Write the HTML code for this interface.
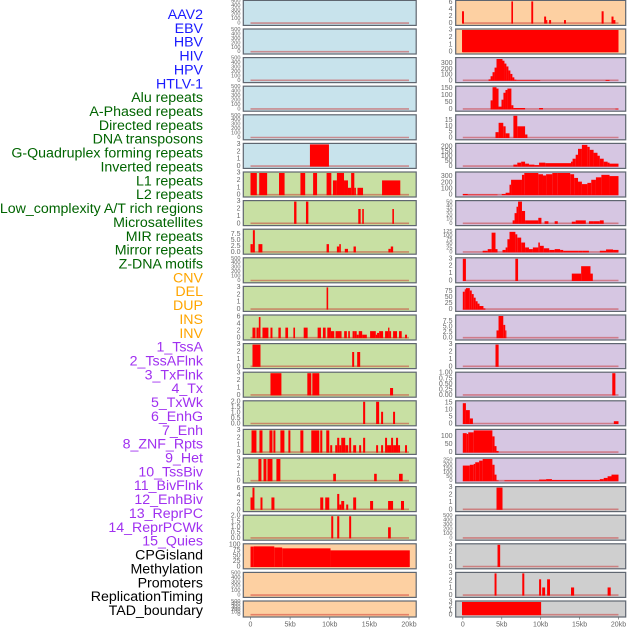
<!DOCTYPE html>
<html><head><meta charset="utf-8"><style>
html,body{margin:0;padding:0;background:#fff;}
svg{display:block;font-family:"Liberation Sans",sans-serif;}
</style></head><body>
<svg id="chart" width="630" height="630" viewBox="0 0 630 630" xmlns="http://www.w3.org/2000/svg"></svg>
<script>
// ---------- data ----------
const labelNames = ["AAV2","EBV","HBV","HIV","HPV","HTLV-1","Alu repeats","A-Phased repeats","Directed repeats","DNA transposons","G-Quadruplex forming repeats","Inverted repeats","L1 repeats","L2 repeats","Low_complexity A/T rich regions","Microsatellites","MIR repeats","Mirror repeats","Z-DNA motifs","CNV","DEL","DUP","INS","INV","1_TssA","2_TssAFlnk","3_TxFlnk","4_Tx","5_TxWk","6_EnhG","7_Enh","8_ZNF_Rpts","9_Het","10_TssBiv","11_BivFlnk","12_EnhBiv","13_ReprPC","14_ReprPCWk","15_Quies","CPGisland","Methylation","Promoters","ReplicationTiming","TAD_boundary"];
const labelGroups = [6,13,5,15,5];
const groupColors = ["#1a1aff","#006400","#ffa500","#a030f0","#000000"];

const xTickValues = [0,5,10,15,20];
const xTickLabels = ["0","5kb","10kb","15kb","20kb"];

const leftColors = ["#c8e3ec","#c8e3ec","#c8e3ec","#c8e3ec","#c8e3ec","#c8e3ec","#c8e0a3","#c8e0a3","#c8e0a3","#c8e0a3","#c8e0a3","#c8e0a3","#c8e0a3","#c8e0a3","#c8e0a3","#c8e0a3","#c8e0a3","#c8e0a3","#c8e0a3","#fdd0a2","#fdd0a2","#fdd0a2"];
const rightColors = ["#fdd0a2","#fdd0a2","#d6c6e2","#d6c6e2","#d6c6e2","#d6c6e2","#d6c6e2","#d6c6e2","#d6c6e2","#d6c6e2","#d6c6e2","#d6c6e2","#d6c6e2","#d6c6e2","#d6c6e2","#d6c6e2","#d6c6e2","#cfcfcf","#cfcfcf","#cfcfcf","#cfcfcf","#cfcfcf"];

const T500 = [0,100,200,300,400,500];
const T3 = [0,1,2,3];
const leftYmax = [500,500,500,500,500,3,3,3,9.4,500,3,6.3,3,3,2,3,3,6.3,2,100,500,500];
const leftTicks = [T500,T500,T500,T500,T500,T3,T3,T3,[0,2.5,5,7.5],T500,T3,[0,2,4,6],T3,T3,[0,0.5,1,1.5,2],T3,T3,[0,2,4,6],[0,0.5,1,1.5,2],[0,25,50,75,100],T500,T500];
const leftTickLabels = [null,null,null,null,null,null,null,null,["0.0","2.5","5.0","7.5"],null,null,null,null,null,["0.0","0.5","1.0","1.5","2.0"],null,null,null,["0.0","0.5","1.0","1.5","2.0"],null,null,null];

const rightYmax = [6.3,3,387,160,19,225,360,52,135,3,93,10,3,1,16,137,270,3,500,3,3,3];
const rightTicks = [[0,2,4,6],T3,[0,100,200,300],[0,50,100,150],[0,5,10,15],[0,50,100,150,200],[0,100,200,300],[0,10,20,30,40,50],[0,25,50,75,100,125],T3,[0,25,50,75],[0,2.5,5,7.5],T3,[0,0.25,0.5,0.75,1],[0,5,10,15],[0,50,100],[0,50,100,150,200,250],T3,T500,T3,T3,T3];
const rightTickLabels = [null,null,null,null,null,null,null,null,null,null,null,["0.0","2.5","5.0","7.5"],null,["0.00","0.25","0.50","0.75","1.00"],null,null,null,null,null,null,null,null];

// bars: [startKb, endKb, value]
const L5 = [[7.5,9.9,3]];
const L6 = [[0,0.8,3],[1.1,2.1,3],[3.6,4.3,3],[6.3,6.9,3],[7.9,8.4,3],[9.6,10.2,3],[10.4,10.9,2],[10.9,11.8,3],[11.8,12.3,2],[12.3,12.7,1],[12.7,13.1,3],[13.1,13.3,1],[13.5,14.2,1],[16.6,18.9,2]];
const L7 = [[5.5,5.8,3],[7.0,7.3,3],[13.6,13.9,2],[14.1,14.3,2],[17.9,18.1,2]];
const L8 = [[0,0.3,3.5],[0.3,0.55,9.5],[1,1.5,3.5],[9.6,9.9,3.5],[10.9,11.2,2.5],[11.2,11.4,3.5],[11.9,12.3,1.5],[13,13.3,2.5],[17.4,17.7,1.5],[17.7,18,2.5]];
const L10 = [[9.6,9.8,3]];
const L11 = [[0.25,0.63,3],[0.75,1.05,3],[1.05,1.26,6],[1.51,2.26,3],[2.52,2.77,3],[3.52,3.82,3],[4.4,4.74,3],[5.41,5.62,3],[6.71,7.21,3],[8.47,8.89,3],[9.14,9.48,3],[9.69,10.15,3],[10.15,10.57,2],[10.73,11.49,2],[11.82,12.16,2],[12.33,12.54,2],[12.88,13.14,2],[13.14,13.4,2],[13.4,13.66,1],[13.66,14.09,2],[14.09,14.68,1],[15.09,15.81,2],[15.81,15.97,1],[15.97,16.23,1.5],[16.23,16.73,2],[16.98,17.36,2],[17.36,17.53,3],[17.53,17.74,2],[17.99,18.49,2],[18.74,19.08,2],[19.5,19.75,1]];
const L12 = [[0.25,1.26,3],[12.83,13.08,2],[13.46,13.84,2]];
const L13 = [[2.52,3.9,3],[7.17,7.67,3],[7.8,8.68,3],[17.61,17.99,1]];
const L14 = [[14.21,14.47,2],[15.85,16.23,2],[16.48,16.73,1.1],[17.99,18.24,1.1]];
const L15 = [[0.13,0.75,3],[1.13,1.51,3],[2.39,2.77,3],[2.89,3.14,3],[3.77,4.28,3],[4.78,5.03,3],[6.29,6.67,3],[7.67,8.68,3],[8.8,9.06,3],[9.56,9.94,3],[10.06,10.31,1],[10.69,10.94,1],[10.94,11.2,2],[11.2,11.45,1],[11.45,11.95,2],[11.95,12.33,1],[12.45,12.7,2],[12.96,13.33,1],[13.71,13.96,1],[14.21,14.47,2],[15.85,16.1,1],[16.48,16.73,1],[16.98,17.23,2],[17.23,17.74,1],[17.74,17.99,2],[17.99,18.36,1],[18.36,18.62,2],[18.62,18.87,1],[19.5,19.75,1]];
const L16 = [[1.0,1.38,3],[1.64,2.01,3],[2.14,2.77,3],[3.27,3.77,3],[10.44,10.78,1],[15.6,15.93,1],[18.74,19.2,1]];
const L17 = [[0,0.25,3.5],[0.25,0.5,6.3],[1.26,1.51,3.5],[2.64,3.02,3.5],[8.8,9.18,3.5],[9.43,9.94,3.5],[10.94,11.2,4.5],[11.2,11.45,1.5],[11.45,11.82,2.5],[12.08,12.33,1.5],[12.96,13.33,3.5],[15.09,15.47,2.5],[17.36,17.99,2.5],[18.99,19.37,2.5]];
const L18 = [[10.19,10.44,2],[10.94,11.2,2],[12.45,12.7,2],[17.36,17.7,1]];
const L19 = [[0,0.4,92],[0.4,3,93],[3,4,88],[4,10.1,84],[10.1,20.1,75]];
const leftBars = [[],[],[],[],[],L5,L6,L7,L8,[],L10,L11,L12,L13,L14,L15,L16,L17,L18,L19,[],[]];

const R0 = [[-0.1,0.15,3.5],[6.24,6.45,6.3],[8.8,9.04,6.3],[10.45,10.7,2],[10.7,10.85,1],[11.08,11.34,1],[13,13.25,1],[17.83,18.09,3.5],[19.1,19.36,2],[19.36,19.6,1]];
const R1 = [[-0.1,20,3]];
const R2 = [[3.31,3.57,25],[3.57,3.82,80],[3.82,4.08,150],[4.08,4.33,230],[4.33,5.1,380],[5.1,5.35,350],[5.35,5.6,300],[5.6,5.86,250],[5.86,6.11,180],[6.11,6.37,120],[6.37,6.62,60],[6.62,6.88,20],[6.88,9.94,10],[18.34,18.85,15]];
const R3 = [[3.57,3.82,65],[3.82,4.33,160],[4.33,4.59,150],[4.59,4.97,20],[4.97,5.22,70],[5.22,5.48,120],[5.48,5.73,140],[5.73,6.24,150],[6.24,6.5,30],[6.5,8.0,10],[9.8,10.3,10],[19.6,20,5]];
const R4 = [[4.2,4.6,5],[4.6,5.2,13],[5.2,5.5,10],[5.5,6.0,4],[6.5,7.0,19],[7.0,8.0,10],[8.0,8.3,3]];
const R5 = [[6.5,7,20],[7,7.5,40],[7.5,8,50],[8,8.5,30],[8.5,9.2,20],[9.2,9.8,15],[9.8,10.6,40],[10.6,13.9,35],[13.9,14.1,50],[14.1,14.5,80],[14.5,14.8,120],[14.8,15.3,180],[15.3,16,220],[16,16.3,200],[16.3,16.8,170],[16.8,17.3,140],[17.3,17.6,110],[17.6,18.1,80],[18.1,18.6,50],[18.6,18.85,40],[18.85,20,30]];
const R6 = [[0,0.64,20],[0.64,4.46,10],[5,5.5,20],[5.5,6,40],[6,6.2,170],[6.2,7.6,250],[7.6,7.9,330],[7.9,9.7,370],[9.7,10.3,340],[10.3,10.7,320],[10.7,11.5,340],[11.5,12.2,360],[12.2,13.8,370],[13.8,14.3,340],[14.3,14.8,280],[14.8,15.3,220],[15.3,16,180],[16,16.5,200],[16.5,17.1,250],[17.1,17.8,290],[17.8,18.85,330],[18.85,20,310]];
const R7 = [[6.4,6.65,8],[6.65,6.9,25],[6.9,7.1,40],[7.1,7.6,52],[7.6,8.0,30],[8.0,9.7,8],[9.7,10.1,14],[10.5,11.0,6],[11.8,12.2,6],[14.0,14.5,5],[14.5,15.8,8],[16.2,16.8,6],[16.8,17.6,6],[17.6,18.1,8]];
const R8 = [[2.55,3.2,10],[3.2,3.7,20],[3.7,4.2,120],[4.2,4.46,20],[5.1,5.5,15],[5.5,5.73,30],[5.73,6.0,80],[6.0,6.75,125],[6.75,7.0,110],[7.0,7.5,90],[7.5,8.0,60],[8.0,8.5,30],[8.5,9.0,20],[9.0,9.7,30],[9.7,9.9,60],[9.9,10.4,40],[10.4,11.1,25],[11.1,11.8,15],[11.8,12.5,20],[12.5,12.9,15],[12.9,14.9,10],[14.9,15.4,10],[15.4,16.2,10],[17.6,18.4,10],[18.4,19.3,18],[19.3,20,15]];
const R9 = [[0,0.4,3],[6.75,7.1,3],[14,15.2,1],[15.2,16.4,2],[16.4,16.7,1]];
const R10 = [[0,0.25,75],[0.25,0.4,85],[0.4,0.9,90],[0.9,1.15,80],[1.15,1.4,65],[1.4,1.65,50],[1.65,1.9,35],[1.9,2.15,25],[2.15,2.65,15],[2.65,2.9,5]];
const R11 = [[4.33,4.59,3.5],[4.59,5.2,10],[5.2,5.45,6],[5.45,5.6,3.5]];
const R12 = [[4.2,4.6,3]];
const R13 = [[19.2,19.6,1]];
const R14 = [[0,0.4,15],[0.4,0.9,10],[0.9,1.3,4],[19.4,20,2]];
const R15 = [[0,0.5,120],[0.5,0.7,115],[0.7,1.4,125],[1.4,3.8,140],[3.8,4.08,100],[4.08,4.33,40],[4.33,4.6,10]];
const R16 = [[0,0.9,190],[0.9,1.4,200],[1.4,1.6,210],[1.6,2.1,230],[2.1,2.55,250],[2.55,3.8,270],[3.8,4.08,200],[4.08,4.33,80],[4.33,4.6,10],[5.35,9.8,10],[9.8,10.3,20],[10.3,10.7,20],[10.7,11.45,25],[11.45,17.6,15],[17.6,18.1,25],[18.1,18.6,40],[18.6,19.1,60],[19.1,20,80]];
const R17 = [[4.33,5.1,3]];
const R19 = [[4.46,4.8,3]];
const R20 = [[4.08,4.33,3],[7.64,7.9,3],[9.8,10.06,2.2],[10.2,10.57,1.1],[10.83,11.2,2.2],[13.9,14.3,1.1],[18.6,19,1.1]];
const R21 = [[-0.1,10.06,3]];
const rightBars = [R0,R1,R2,R3,R4,R5,R6,R7,R8,R9,R10,R11,R12,R13,R14,R15,R16,R17,[],R19,R20,R21];

// ---------- drawing ----------
const NS = "http://www.w3.org/2000/svg";
const svg = document.getElementById("chart");
function mk(tag, attrs, parent){ const e=document.createElementNS(NS,tag); for(const k in attrs) e.setAttribute(k,attrs[k]); (parent||svg).appendChild(e); return e; }

// labels
let li=0;
labelGroups.forEach((n,g)=>{
  for(let j=0;j<n;j++){
    const t = mk("text",{x:203,y:15+li*13.86,"text-anchor":"end","dominant-baseline":"central","font-size":"14.2",fill:groupColors[g]});
    t.textContent = labelNames[li];
    
    
    li++;
  }
});

const cols = [
  {name:"left", x0:243.3, x1:416.2, xz:250.5, xs:(409-250.5)/20, tickX:240.5, colors:leftColors, ymax:leftYmax, ticks:leftTicks, tlabels:leftTickLabels, bars:leftBars, axisY:625},
  {name:"right", x0:455.7, x1:625.7, xz:462.8, xs:(618.5-462.8)/20, tickX:452.5, colors:rightColors, ymax:rightYmax, ticks:rightTicks, tlabels:rightTickLabels, bars:rightBars, axisY:625}
];

cols.forEach(c=>{
  const xScale = kb => c.xz + kb*c.xs;
  for(let r=0;r<22;r++){
    const top = 0.4 + r*28.6;
    const h = r===21 ? 16 : 25;
    const g = mk("g",{});
    
    
    mk("rect",{x:c.x0,y:top,width:c.x1-c.x0,height:h,fill:c.colors[r],stroke:"#5f6670","stroke-width":"1.2"},g);
    const y0 = top + h - 1.8, y1 = top + 1;
    const yScale = v => y0 - (v / c.ymax[r]) * (y0 - y1);
    const bl = mk("line",{x1:xScale(0),x2:xScale(20),y1:y0-0.5,y2:y0-0.5,stroke:"rgba(200,30,30,0.45)","stroke-width":"1.6"},g);
    
    
    c.bars[r].forEach(b=>{
      const yt = Math.max(y1, yScale(b[2]));
      const rc = mk("rect",{x:xScale(b[0]),y:yt,width:Math.max(0.8,xScale(b[1])-xScale(b[0])),height:y0-yt,fill:"#ff0000"},g);
      
      
    });
    const tks = c.ticks[r], tl = c.tlabels[r];
    const fs = (tks.length>5 && h<26) ? 5.6 : 7;
    tks.forEach((v,k)=>{
      const ty = yScale(v);
      const t = mk("text",{x:c.tickX,y:ty,"text-anchor":"end","dominant-baseline":"central","font-size":fs,fill:"#666"},g);
      t.textContent = tl ? tl[k] : String(v);
      
      
    });
  }
  xTickValues.forEach((v,k)=>{
    const x = xScale(v);
    mk("line",{x1:x,x2:x,y1:617.5,y2:619.5,stroke:"#777","stroke-width":"0.8"});
    const t = mk("text",{x:x,y:c.axisY,"text-anchor":"middle","dominant-baseline":"central","font-size":"7",fill:"#666"});
    t.textContent = xTickLabels[k];
    
    
  });
});
</script>
</body></html>
